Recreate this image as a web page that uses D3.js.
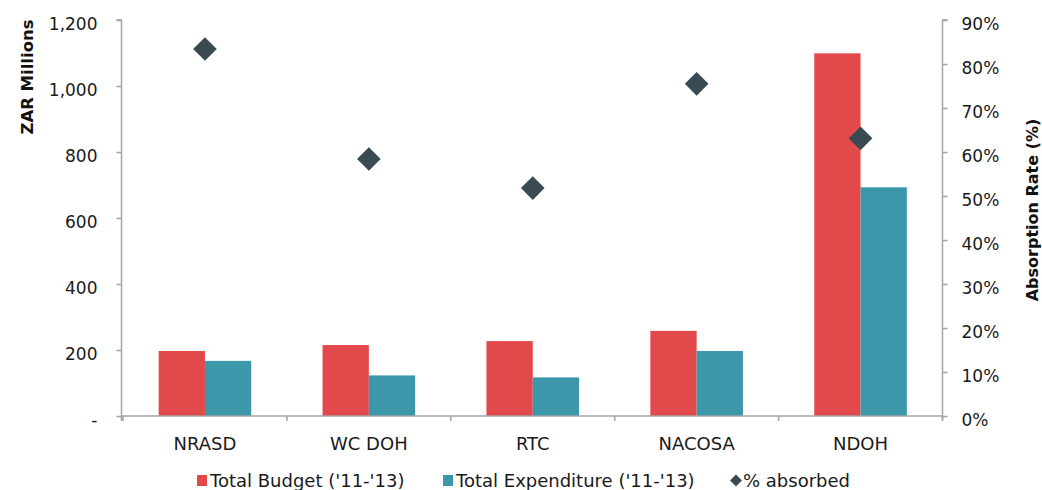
<!DOCTYPE html>
<html><head><meta charset="utf-8">
<script src="https://cdn.jsdelivr.net/npm/d3@7"></script>
<style>body{margin:0;background:#fff}svg{display:block;font-family:"DejaVu Sans",sans-serif}</style>
</head><body>
<svg id="c" width="1042" height="490"></svg>
<script>
const categories = ["NRASD","WC DOH","RTC","NACOSA","NDOH"];
const totalBudget = [197,215,227,258,1099];
const totalExpenditure = [167,123,117,197,693];
const pctAbsorbed = [0.834,0.584,0.518,0.755,0.631];
const leftTicks = [0,200,400,600,800,1000,1200];
const rightTicks = [0,0.1,0.2,0.3,0.4,0.5,0.6,0.7,0.8,0.9];
const seriesNames = ["Total Budget ('11-'13)","Total Expenditure ('11-'13)","% absorbed"];
const colors = ["#e2494b","#3c97ab","#394a53"];

const svg = d3.select("#c");
const L = 121.5, R = 942.5, T = 20, B = 416;
const axisColor = "#a3a3a3";
const textColor = "#1a1a1a";

const x = d3.scaleBand().domain(categories).range([L+1.5, R]).paddingInner(0).paddingOuter(0);
const yL = d3.scaleLinear().domain([0,1200]).range([B,T]);
const yR = d3.scaleLinear().domain([0,0.9]).range([B,T]);
const barW = 46.3;

// bars
const g = svg.append("g");
categories.forEach((c,i)=>{
  const cx = x(c) + x.bandwidth()/2;
  g.append("rect").attr("x", cx-barW).attr("y", yL(totalBudget[i])).attr("width", barW).attr("height", yL(0)-yL(totalBudget[i])).attr("fill", colors[0]);
  g.append("rect").attr("x", cx).attr("y", yL(totalExpenditure[i])).attr("width", barW).attr("height", yL(0)-yL(totalExpenditure[i])).attr("fill", colors[1]);
});

// left axis
const la = svg.append("g").attr("transform",`translate(${L},0)`)
  .call(d3.axisLeft(yL).tickValues(leftTicks).tickSize(5).tickPadding(19).tickFormat(d=> d===0 ? "-" : d3.format(",")(d)));
la.selectAll("path,line").attr("stroke",axisColor).attr("stroke-width",1.5);
la.select(".domain").attr("d",`M-5,${T}H0V${B+5}`);
la.selectAll("text").attr("font-size",17).attr("fill",textColor).attr("dy","0.55em").attr("font-family","DejaVu Sans");

// right axis
const ra = svg.append("g").attr("transform",`translate(${R},0)`)
  .call(d3.axisRight(yR).tickValues(rightTicks).tickSize(5).tickPadding(14).tickFormat(d3.format(".0%")));
ra.selectAll("path,line").attr("stroke",axisColor).attr("stroke-width",1.5);
ra.select(".domain").attr("d",`M5,${T}H0V${B+5}`);
ra.selectAll("text").attr("font-size",17).attr("fill",textColor).attr("dy","0.58em").attr("font-family","DejaVu Sans");

// bottom axis
const ba = svg.append("g").attr("transform",`translate(0,${B})`)
  .call(d3.axisBottom(x).tickSize(0).tickPadding(21));
ba.select(".domain").attr("d",`M${L},0H${R}`).attr("stroke",axisColor).attr("stroke-width",1.5);
ba.selectAll("text").attr("font-size",18).attr("fill",textColor).attr("font-family","DejaVu Sans");
const bounds = categories.map(c=>x(c)).concat([x(categories[categories.length-1])+x.bandwidth()]);
ba.selectAll(".bt").data(bounds).enter().append("line").attr("class","bt")
  .attr("x1",d=>d).attr("x2",d=>d).attr("y1",0).attr("y2",5).attr("stroke",axisColor).attr("stroke-width",1.5);

// diamonds
const diamond = d3.symbol().type(d3.symbolSquare).size(280);
svg.append("g").selectAll("path").data(categories).enter().append("path")
  .attr("d", diamond)
  .attr("transform",(c,i)=>`translate(${x(c)+x.bandwidth()/2},${yR(pctAbsorbed[i])}) rotate(45)`)
  .attr("fill", colors[2]);

// axis titles
svg.append("text").attr("transform",`translate(33,77) rotate(-90)`).attr("text-anchor","middle")
  .attr("font-size",16.5).attr("font-weight","bold").attr("fill","#111").text("ZAR Millions");
svg.append("text").attr("transform",`translate(1038,210) rotate(-90)`).attr("text-anchor","middle")
  .attr("font-size",16).attr("font-weight","bold").attr("fill","#111").text("Absorption Rate (%)");

// legend
const lg = svg.append("g").attr("transform","translate(0,487)");
const items = [{x:197, i:0},{x:443, i:1},{x:730, i:2}];
items.forEach(it=>{
  if (it.i<2) lg.append("rect").attr("x",it.x).attr("y",-12).attr("width",10).attr("height",11).attr("fill",colors[it.i]);
  else lg.append("path").attr("d",d3.symbol().type(d3.symbolSquare).size(72)).attr("transform",`translate(${it.x+6},-6.5) rotate(45)`).attr("fill",colors[2]);
  lg.append("text").attr("x",it.x+13).attr("y",0).attr("font-size",18).attr("fill",textColor).text(seriesNames[it.i]);
});
</script>
</body></html>
